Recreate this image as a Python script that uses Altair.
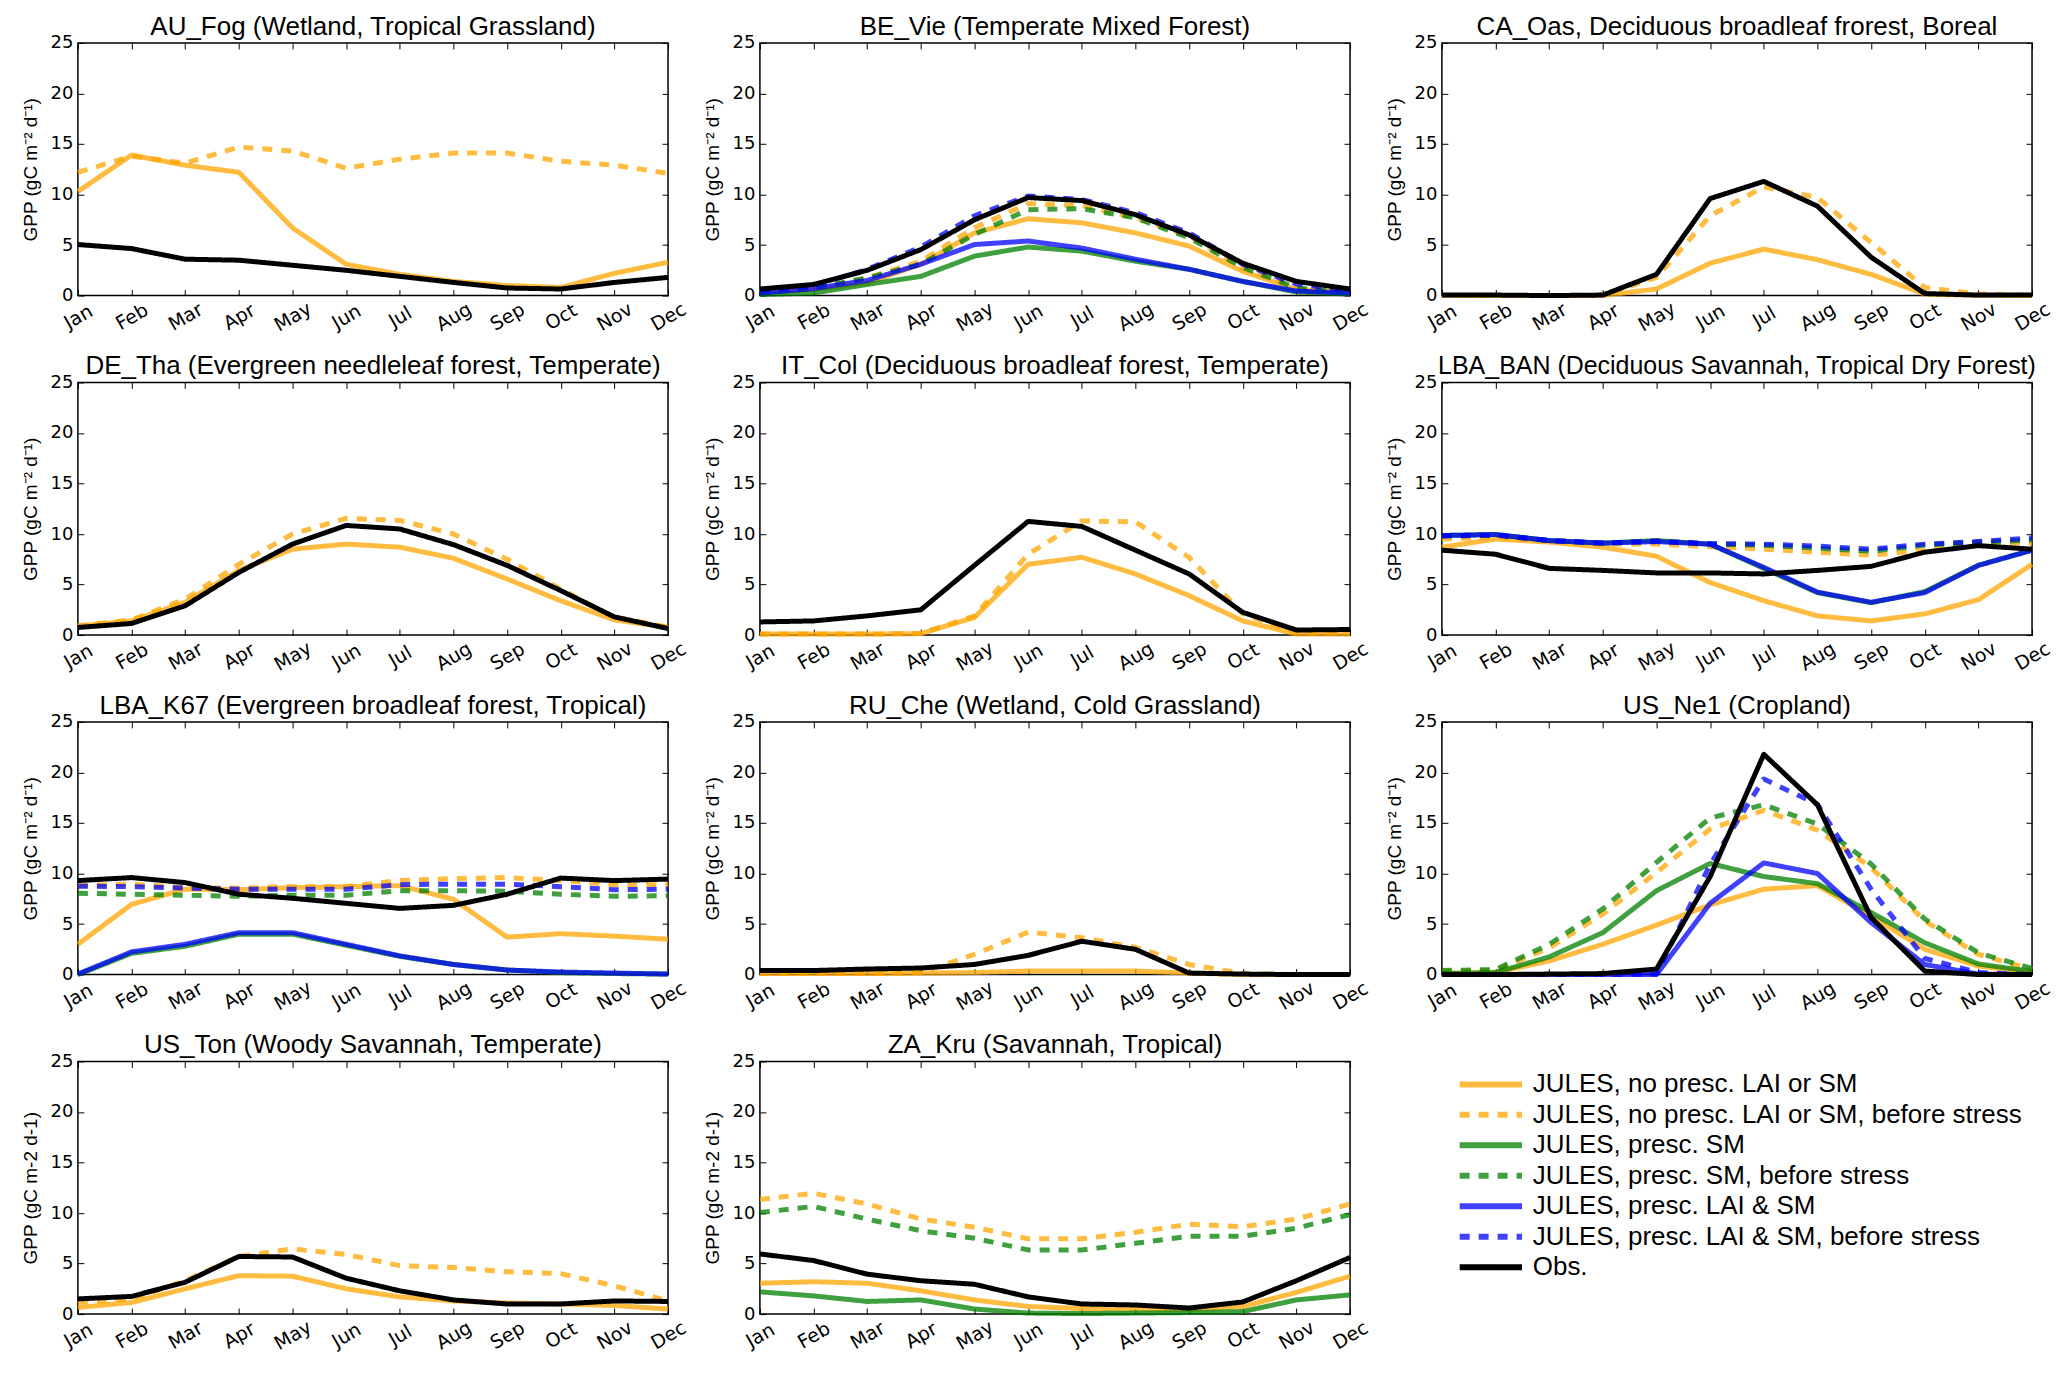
import altair as alt
import pandas as pd

MONTHS = ["Jan", "Feb", "Mar", "Apr", "May", "Jun", "Jul", "Aug", "Sep", "Oct", "Nov", "Dec"]
SERIES = [
    "JULES, no presc. LAI or SM",
    "JULES, no presc. LAI or SM, before stress",
    "JULES, presc. SM",
    "JULES, presc. SM, before stress",
    "JULES, presc. LAI & SM",
    "JULES, presc. LAI & SM, before stress",
    "Obs.",
]
SERIES_COLORS = [
    "rgba(255,165,0,0.75)", "rgba(255,165,0,0.75)",
    "rgba(0,128,0,0.75)", "rgba(0,128,0,0.75)",
    "rgba(0,0,255,0.75)", "rgba(0,0,255,0.75)",
    "#000000",
]
SERIES_DASHES = [[1, 0], [10, 9], [1, 0], [10, 9], [1, 0], [10, 9], [1, 0]]
Y_TICKS = [0, 5, 10, 15, 20, 25]
YLAB_SUP = "GPP (gC m\u207b\u00b2 d\u207b\u00b9)"
YLAB_PLAIN = "GPP (gC m-2 d-1)"

# ---- AU_Fog
AU_FOG_NOPRESC = [10.3, 13.9, 12.9, 12.2, 6.7, 3.1, 2.1, 1.4, 1.0, 0.8, 2.2, 3.3]
AU_FOG_NOPRESC_BS = [12.2, 13.8, 13.1, 14.7, 14.3, 12.6, 13.5, 14.1, 14.1, 13.3, 12.9, 12.1]
AU_FOG_OBS = [5.05, 4.65, 3.6, 3.5, 3.0, 2.5, 1.9, 1.3, 0.75, 0.65, 1.3, 1.8]

# ---- BE_Vie
BE_VIE_NOPRESC = [0.4, 0.6, 1.25, 3.1, 6.2, 7.6, 7.2, 6.2, 4.9, 2.4, 0.6, 0.35]
BE_VIE_NOPRESC_BS = [0.4, 0.65, 1.75, 3.4, 6.7, 9.1, 8.9, 7.7, 5.9, 2.7, 0.75, 0.35]
BE_VIE_SM = [0.1, 0.25, 1.1, 1.9, 3.9, 4.8, 4.4, 3.4, 2.6, 1.4, 0.35, 0.15]
BE_VIE_SM_BS = [0.25, 0.7, 1.75, 3.1, 6.05, 8.5, 8.6, 7.7, 5.7, 2.8, 0.75, 0.25]
BE_VIE_LAI = [0.25, 0.7, 1.5, 3.1, 5.05, 5.4, 4.7, 3.6, 2.6, 1.4, 0.45, 0.25]
BE_VIE_LAI_BS = [0.5, 0.95, 2.6, 4.8, 7.9, 9.85, 9.5, 8.2, 6.2, 3.1, 1.15, 0.5]
BE_VIE_OBS = [0.65, 1.1, 2.5, 4.55, 7.5, 9.7, 9.4, 8.0, 6.0, 3.2, 1.4, 0.65]

# ---- CA_Oas
CA_OAS_NOPRESC = [0, 0, 0, 0, 0.65, 3.2, 4.6, 3.55, 2.1, 0.15, 0, 0]
CA_OAS_NOPRESC_BS = [0, 0, 0, 0.05, 1.8, 7.9, 10.75, 9.7, 5.25, 0.8, 0.15, 0]
CA_OAS_OBS = [0.05, 0.05, 0, 0.05, 2.1, 9.6, 11.3, 8.85, 3.8, 0.2, 0.05, 0.05]

# ---- DE_Tha
DE_THA_NOPRESC = [0.9, 1.4, 3.25, 6.4, 8.5, 9.0, 8.7, 7.6, 5.55, 3.4, 1.5, 0.75]
DE_THA_NOPRESC_BS = [0.9, 1.5, 3.55, 7.0, 10.0, 11.55, 11.35, 10.0, 7.5, 4.55, 1.75, 0.8]
DE_THA_OBS = [0.75, 1.15, 2.9, 6.2, 9.0, 10.85, 10.5, 8.95, 6.9, 4.4, 1.8, 0.65]

# ---- IT_Col
IT_COL_NOPRESC = [0.1, 0.1, 0.1, 0.15, 1.75, 7.0, 7.7, 6.05, 3.9, 1.4, 0.1, 0.1]
IT_COL_NOPRESC_BS = [0.1, 0.1, 0.1, 0.15, 1.9, 8.0, 11.3, 11.2, 7.7, 2.1, 0.25, 0.2]
IT_COL_OBS = [1.3, 1.4, 1.9, 2.5, 6.9, 11.25, 10.75, 8.4, 6.05, 2.25, 0.5, 0.55]

# ---- LBA_BAN
LBA_BAN_NOPRESC = [8.7, 9.5, 9.2, 8.7, 7.8, 5.2, 3.4, 1.9, 1.4, 2.1, 3.5, 7.0]
LBA_BAN_NOPRESC_BS = [9.5, 9.7, 9.3, 9.0, 9.0, 8.75, 8.5, 8.2, 7.9, 8.4, 9.1, 9.1]
LBA_BAN_SM = [9.85, 9.95, 9.35, 9.1, 9.35, 9.0, 6.6, 4.2, 3.2, 4.3, 6.9, 8.4]
LBA_BAN_SM_BS = [9.8, 9.9, 9.35, 9.1, 9.3, 9.0, 8.9, 8.6, 8.3, 8.9, 9.2, 9.4]
LBA_BAN_LAI = [9.85, 9.95, 9.35, 9.1, 9.25, 9.0, 6.7, 4.25, 3.25, 4.2, 6.9, 8.4]
LBA_BAN_LAI_BS = [9.8, 9.9, 9.35, 9.1, 9.3, 9.05, 9.0, 8.8, 8.5, 9.0, 9.25, 9.6]
LBA_BAN_OBS = [8.4, 8.0, 6.6, 6.4, 6.15, 6.15, 6.05, 6.4, 6.8, 8.2, 8.85, 8.5]

# ---- LBA_K67
LBA_K67_NOPRESC = [3.0, 6.95, 8.45, 8.4, 8.6, 8.7, 8.8, 7.45, 3.7, 4.05, 3.8, 3.5]
LBA_K67_NOPRESC_BS = [8.8, 8.95, 8.6, 8.55, 8.7, 8.7, 9.3, 9.5, 9.6, 9.3, 8.9, 8.9]
LBA_K67_SM = [0.0, 2.1, 2.8, 4.0, 4.0, 2.9, 1.8, 1.0, 0.45, 0.2, 0.1, 0.05]
LBA_K67_SM_BS = [8.05, 7.95, 7.85, 7.75, 7.85, 7.85, 8.3, 8.3, 8.25, 7.95, 7.75, 7.8]
LBA_K67_LAI = [0.05, 2.25, 3.0, 4.15, 4.15, 3.0, 1.85, 1.0, 0.45, 0.25, 0.15, 0.05]
LBA_K67_LAI_BS = [8.75, 8.7, 8.55, 8.45, 8.45, 8.45, 8.9, 8.95, 8.95, 8.7, 8.4, 8.45]
LBA_K67_OBS = [9.3, 9.6, 9.1, 7.95, 7.55, 7.05, 6.55, 6.85, 7.95, 9.55, 9.3, 9.45]

# ---- RU_Che
RU_CHE_NOPRESC = [0.1, 0.1, 0.1, 0.15, 0.2, 0.35, 0.35, 0.35, 0.15, 0.0, 0.0, 0.0]
RU_CHE_NOPRESC_BS = [0.1, 0.1, 0.1, 0.2, 2.0, 4.2, 3.65, 2.7, 1.0, 0.1, 0.0, 0.0]
RU_CHE_OBS = [0.4, 0.4, 0.55, 0.65, 1.0, 1.9, 3.3, 2.5, 0.15, 0.05, 0.0, 0.0]

# ---- US_Ne1
US_NE1_NOPRESC = [0.1, 0.2, 1.35, 3.0, 4.9, 6.9, 8.45, 8.8, 5.8, 2.5, 0.85, 0.2]
US_NE1_NOPRESC_BS = [0.3, 0.4, 2.65, 6.0, 10.1, 14.4, 16.25, 14.3, 10.6, 5.3, 2.0, 0.5]
US_NE1_SM = [0.1, 0.2, 1.75, 4.15, 8.3, 11.0, 9.7, 9.0, 6.15, 3.15, 1.05, 0.3]
US_NE1_SM_BS = [0.4, 0.5, 3.0, 6.5, 11.1, 15.5, 16.8, 14.9, 10.95, 5.5, 2.15, 0.6]
US_NE1_LAI = [0.0, 0.0, 0.0, 0.0, 0.0, 7.05, 11.05, 10.0, 5.15, 1.0, 0.05, 0.0]
US_NE1_LAI_BS = [0.0, 0.0, 0.0, 0.0, 0.05, 10.9, 19.35, 16.85, 8.45, 1.6, 0.2, 0.0]
US_NE1_OBS = [0.0, 0.0, 0.05, 0.1, 0.55, 9.7, 21.8, 16.8, 5.65, 0.35, 0.0, 0.0]

# ---- US_Ton
US_TON_NOPRESC = [0.65, 1.15, 2.5, 3.8, 3.75, 2.5, 1.7, 1.3, 1.1, 1.0, 0.85, 0.5]
US_TON_NOPRESC_BS = [1.15, 1.5, 3.3, 5.7, 6.45, 5.9, 4.8, 4.6, 4.2, 4.0, 2.8, 1.3]
US_TON_OBS = [1.5, 1.75, 3.15, 5.7, 5.65, 3.55, 2.3, 1.4, 1.0, 1.0, 1.3, 1.25]

# ---- ZA_Kru
ZA_KRU_NOPRESC = [3.05, 3.2, 3.05, 2.3, 1.4, 0.75, 0.55, 0.5, 0.45, 0.75, 2.15, 3.75]
ZA_KRU_NOPRESC_BS = [11.35, 11.95, 10.9, 9.4, 8.6, 7.45, 7.45, 8.1, 8.9, 8.65, 9.4, 10.9]
ZA_KRU_SM = [2.2, 1.8, 1.25, 1.4, 0.5, 0.1, 0.05, 0.1, 0.15, 0.25, 1.4, 1.9]
ZA_KRU_SM_BS = [10.05, 10.65, 9.4, 8.25, 7.5, 6.35, 6.35, 7.0, 7.7, 7.7, 8.5, 9.85]
ZA_KRU_OBS = [5.95, 5.3, 3.95, 3.3, 2.95, 1.7, 1.0, 0.9, 0.6, 1.2, 3.3, 5.6]

PANELS = [
    ("AU_Fog (Wetland, Tropical Grassland)", YLAB_SUP, 26,
     [AU_FOG_NOPRESC, AU_FOG_NOPRESC_BS, None, None, None, None, AU_FOG_OBS]),
    ("BE_Vie (Temperate Mixed Forest)", YLAB_SUP, 26,
     [BE_VIE_NOPRESC, BE_VIE_NOPRESC_BS, BE_VIE_SM, BE_VIE_SM_BS, BE_VIE_LAI, BE_VIE_LAI_BS, BE_VIE_OBS]),
    ("CA_Oas, Deciduous broadleaf frorest, Boreal", YLAB_SUP, 26,
     [CA_OAS_NOPRESC, CA_OAS_NOPRESC_BS, None, None, None, None, CA_OAS_OBS]),
    ("DE_Tha (Evergreen needleleaf forest, Temperate)", YLAB_SUP, 26,
     [DE_THA_NOPRESC, DE_THA_NOPRESC_BS, None, None, None, None, DE_THA_OBS]),
    ("IT_Col (Deciduous broadleaf forest, Temperate)", YLAB_SUP, 26,
     [IT_COL_NOPRESC, IT_COL_NOPRESC_BS, None, None, None, None, IT_COL_OBS]),
    ("LBA_BAN (Deciduous Savannah, Tropical Dry Forest)", YLAB_SUP, 25,
     [LBA_BAN_NOPRESC, LBA_BAN_NOPRESC_BS, LBA_BAN_SM, LBA_BAN_SM_BS, LBA_BAN_LAI, LBA_BAN_LAI_BS, LBA_BAN_OBS]),
    ("LBA_K67 (Evergreen broadleaf forest, Tropical)", YLAB_SUP, 26,
     [LBA_K67_NOPRESC, LBA_K67_NOPRESC_BS, LBA_K67_SM, LBA_K67_SM_BS, LBA_K67_LAI, LBA_K67_LAI_BS, LBA_K67_OBS]),
    ("RU_Che (Wetland, Cold Grassland)", YLAB_SUP, 26,
     [RU_CHE_NOPRESC, RU_CHE_NOPRESC_BS, None, None, None, None, RU_CHE_OBS]),
    ("US_Ne1 (Cropland)", YLAB_SUP, 26,
     [US_NE1_NOPRESC, US_NE1_NOPRESC_BS, US_NE1_SM, US_NE1_SM_BS, US_NE1_LAI, US_NE1_LAI_BS, US_NE1_OBS]),
    ("US_Ton (Woody Savannah, Temperate)", YLAB_PLAIN, 26,
     [US_TON_NOPRESC, US_TON_NOPRESC_BS, None, None, None, None, US_TON_OBS]),
    ("ZA_Kru (Savannah, Tropical)", YLAB_PLAIN, 26,
     [ZA_KRU_NOPRESC, ZA_KRU_NOPRESC_BS, ZA_KRU_SM, ZA_KRU_SM_BS, None, None, ZA_KRU_OBS]),
]

PW, PH = 591, 253
TICK_FONT = "DejaVu Sans"
TEXT_FONT = "Liberation Sans"


def tick_axis(orient, values=None):
    kw = dict(orient=orient, title=None, domain=False, labels=False, ticks=True,
              tickSize=6, tickWidth=1, tickColor="black", offset=-6, grid=False)
    if values is not None:
        kw["values"] = values
    return alt.Axis(**kw)


def panel(title, ylab, title_size, values):
    rows = []
    for s, vals in zip(SERIES, values):
        if vals is None:
            continue
        for i, (m, v) in enumerate(zip(MONTHS, vals)):
            rows.append({"month": m, "mi": i, "series": s, "gpp": v})
    df = pd.DataFrame(rows)

    xscale = alt.Scale(type="point", domain=MONTHS, padding=0)
    yscale = alt.Scale(domain=[0, 25], nice=False, zero=True)
    color = alt.Color("series:N", scale=alt.Scale(domain=SERIES, range=SERIES_COLORS),
                      legend=alt.Legend(title=None))
    dash = alt.StrokeDash("series:N", scale=alt.Scale(domain=SERIES, range=SERIES_DASHES),
                          legend=alt.Legend(title=None))

    main_x = alt.Axis(orient="bottom", title=None, domain=False, ticks=False, tickSize=0,
                      labelAngle=-30, labelAlign="center", labelBaseline="middle",
                      labelPadding=21, labelFont=TICK_FONT, labelFontSize=19,
                      labelColor="black", grid=False)
    main_y = alt.Axis(orient="left", title=ylab, values=Y_TICKS, domain=False, ticks=False,
                      tickSize=0, labelPadding=5, minExtent=27, maxExtent=27,
                      labelFont=TICK_FONT, labelFontSize=18, labelColor="black",
                      titleFont=TEXT_FONT, titleFontSize=19, titleFontWeight="normal",
                      titleColor="black", titlePadding=10, grid=False)

    base = alt.Chart(df)
    jules = base.transform_filter(alt.datum.series != "Obs.").mark_line(
        strokeWidth=5, strokeCap="butt", strokeJoin="round"
    ).encode(
        x=alt.X("month:O", sort=MONTHS, scale=xscale, axis=main_x),
        y=alt.Y("gpp:Q", scale=yscale, axis=main_y),
        color=color, strokeDash=dash, order=alt.Order("mi:Q"),
    )
    obs = base.transform_filter(alt.datum.series == "Obs.").mark_line(
        strokeWidth=5, strokeCap="butt", strokeJoin="round"
    ).encode(
        x=alt.X("month:O", sort=MONTHS, scale=xscale, axis=tick_axis("bottom")),
        y=alt.Y("gpp:Q", scale=yscale, axis=tick_axis("left", Y_TICKS)),
        color=color, strokeDash=dash, order=alt.Order("mi:Q"),
    )
    ghost = base.mark_point(opacity=0).encode(
        x=alt.X("month:O", sort=MONTHS, scale=xscale, axis=tick_axis("top")),
        y=alt.Y("gpp:Q", scale=yscale, axis=tick_axis("right", Y_TICKS)),
    )
    return alt.layer(jules, obs, ghost).resolve_axis(
        x="independent", y="independent"
    ).properties(
        width=PW, height=PH,
        title=alt.TitleParams(text=title, font=TEXT_FONT, fontSize=title_size,
                              fontWeight="normal", color="black", anchor="middle",
                              frame="group", offset=-6),
    )


charts = [panel(t, yl, ts, v) for t, yl, ts, v in PANELS]

chart = alt.concat(
    *charts, columns=3, spacing={"row": 87, "column": 92}, bounds="flush"
).configure_view(
    stroke="black", strokeWidth=1.5
).configure_legend(
    orient="none", legendX=1400, legendY=1028, padding=0,
    symbolType="M-2.6,0H2.6", symbolSize=576, symbolStrokeWidth=6,
    labelFont=TEXT_FONT, labelFontSize=26, labelColor="black", labelLimit=900,
    labelOffset=27, rowPadding=2.5,
).properties(
    padding={"left": 13, "top": 4, "right": 5, "bottom": 5},
    background="white",
)

chart.save("out.html", embed_options={"renderer": "svg", "actions": False})
